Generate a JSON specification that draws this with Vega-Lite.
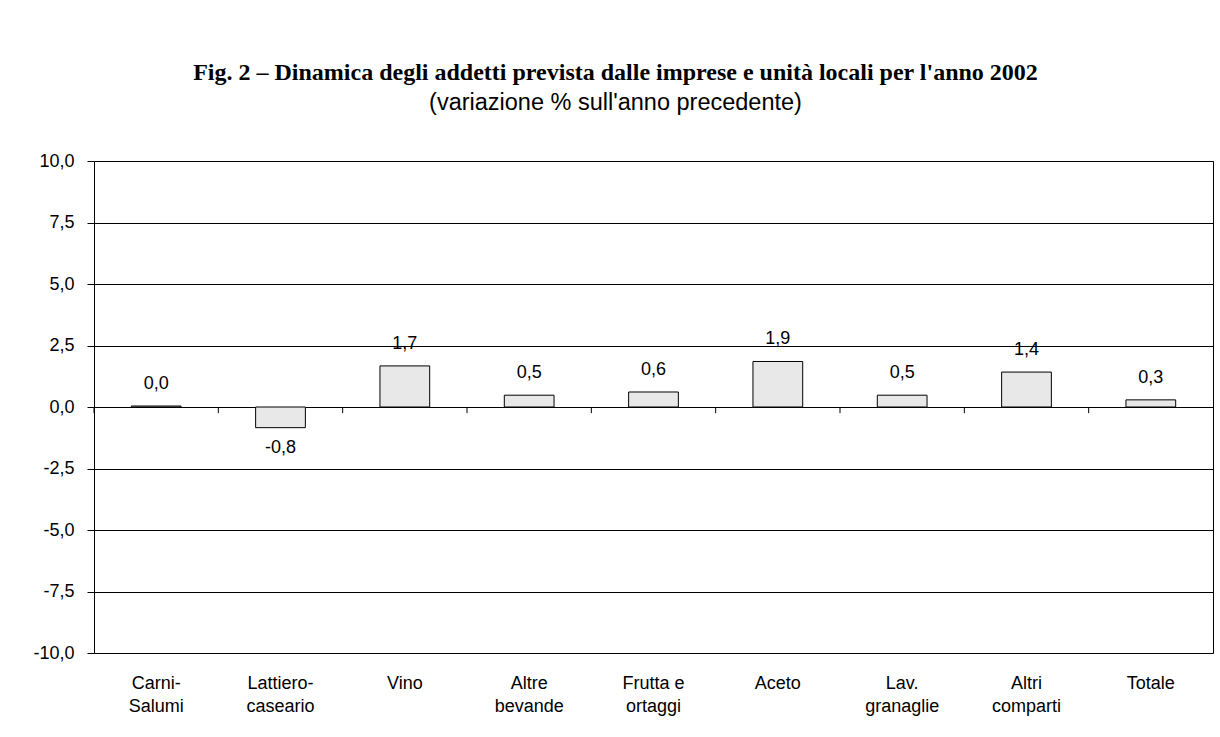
{
  "$schema": "https://vega.github.io/schema/vega-lite/v6.json",
  "width": 1119,
  "height": 492,
  "autosize": {"type": "none"},
  "padding": {"left": 94, "top": 161, "right": 7, "bottom": 84},
  "background": "white",
  "title": {
    "text": "Fig. 2 – Dinamica degli addetti prevista dalle imprese e unità locali per l'anno 2002",
    "subtitle": "(variazione % sull'anno precedente)",
    "font": "Liberation Serif",
    "fontSize": 24,
    "fontWeight": "bold",
    "color": "black",
    "subtitleFont": "Liberation Sans",
    "subtitleFontSize": 23.5,
    "subtitleColor": "black",
    "anchor": "middle",
    "frame": "group",
    "dx": -38,
    "offset": 38,
    "subtitlePadding": 6
  },
  "data": {
    "values": [
      {"cat": "Carni-\nSalumi", "v": 0.04},
      {"cat": "Lattiero-\ncaseario", "v": -0.84},
      {"cat": "Vino", "v": 1.67},
      {"cat": "Altre\nbevande", "v": 0.48},
      {"cat": "Frutta e\nortaggi", "v": 0.61},
      {"cat": "Aceto", "v": 1.85},
      {"cat": "Lav.\ngranaglie", "v": 0.48},
      {"cat": "Altri\ncomparti", "v": 1.42},
      {"cat": "Totale", "v": 0.29}
    ]
  },
  "config": {
    "locale": {"number": {"decimal": ",", "thousands": ".", "grouping": [3], "currency": ["", " €"], "minus": "-"}},
    "view": {"stroke": "black", "strokeWidth": 1},
    "text": {"font": "Liberation Sans"}
  },
  "layer": [
    {
      "mark": {"type": "bar", "width": {"band": 0.4}, "fill": "#e8e8e8", "stroke": "black", "strokeWidth": 1},
      "encoding": {
        "x": {
          "field": "cat", "type": "nominal", "sort": null,
          "scale": {"paddingInner": 0, "paddingOuter": 0},
          "axis": {
            "title": null, "labelAngle": 0, "ticks": false, "tickSize": 0, "domain": false,
            "labelExpr": "split(datum.label, '\\n')",
            "labelFont": "Liberation Sans", "labelFontSize": 18, "labelColor": "black",
            "labelPadding": 21, "labelLineHeight": 23, "labelBaseline": "top"
          }
        },
        "y": {
          "field": "v", "type": "quantitative",
          "scale": {"domain": [-10, 10], "nice": false, "zero": false},
          "axis": {
            "title": null, "values": [-10, -7.5, -5, -2.5, 0, 2.5, 5, 7.5, 10],
            "format": ".1f", "grid": true, "gridColor": "black", "gridOpacity": 1, "gridWidth": 1,
            "domain": false, "tickColor": "black", "tickSize": 7, "tickWidth": 1,
            "labelFont": "Liberation Sans", "labelFontSize": 18, "labelColor": "black",
            "labelPadding": 13
          }
        }
      }
    },
    {
      "mark": {"type": "rule", "color": "black", "strokeWidth": 1},
      "encoding": {
        "x": {"field": "cat", "type": "nominal", "sort": null, "bandPosition": 0},
        "y": {"datum": 0, "type": "quantitative"},
        "y2": {"datum": -0.25}
      }
    },
    {
      "transform": [{"filter": "datum.v >= 0"}],
      "mark": {"type": "text", "dy": -22, "baseline": "middle", "align": "center", "fontSize": 18, "color": "black", "font": "Liberation Sans"},
      "encoding": {
        "x": {"field": "cat", "type": "nominal", "sort": null},
        "y": {"field": "v", "type": "quantitative"},
        "text": {"field": "v", "type": "quantitative", "format": ".1f"}
      }
    },
    {
      "transform": [{"filter": "datum.v < 0"}],
      "mark": {"type": "text", "dy": 20, "baseline": "middle", "align": "center", "fontSize": 18, "color": "black", "font": "Liberation Sans"},
      "encoding": {
        "x": {"field": "cat", "type": "nominal", "sort": null},
        "y": {"field": "v", "type": "quantitative"},
        "text": {"field": "v", "type": "quantitative", "format": ".1f"}
      }
    }
  ]
}
